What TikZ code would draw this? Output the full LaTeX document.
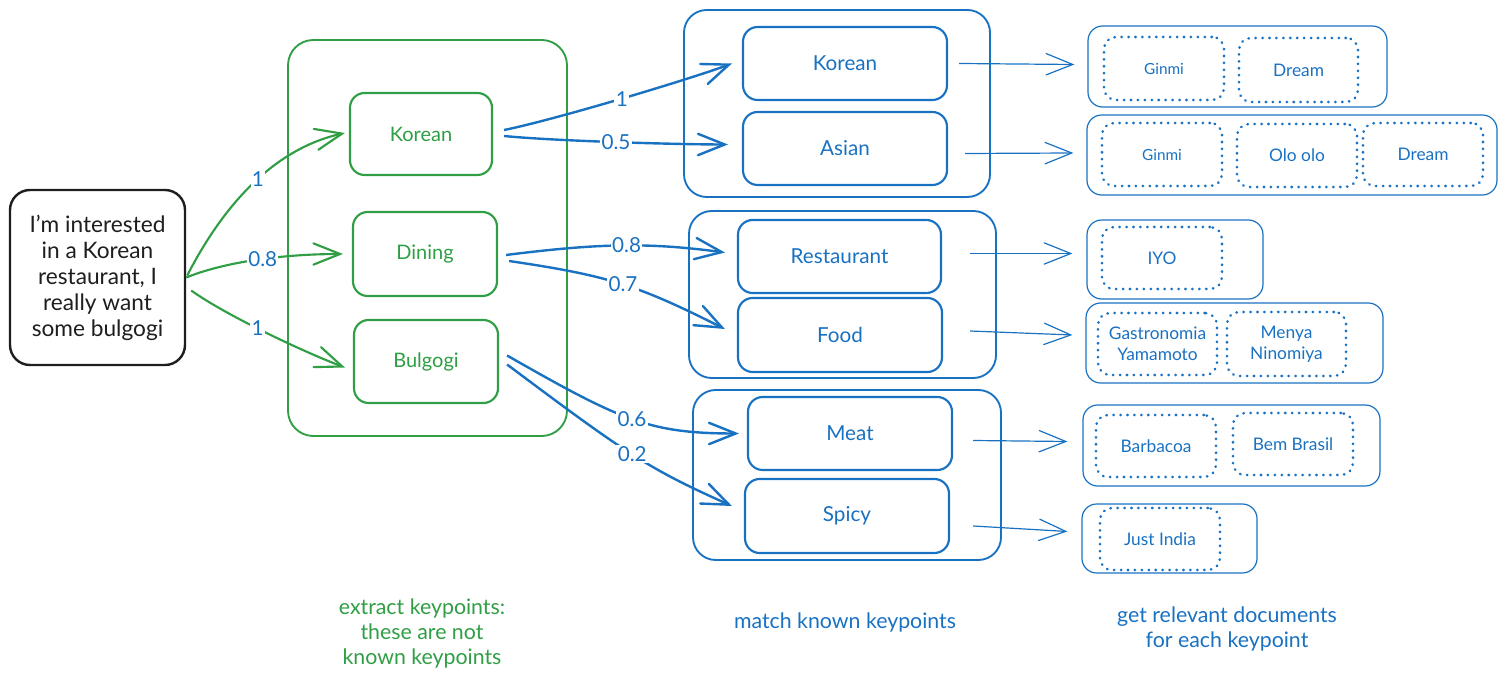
\documentclass[tikz,border=0pt]{standalone}
\usepackage{fontspec}
\setmainfont{Lato}
\usetikzlibrary{arrows.meta,calc}
\definecolor{exgreen}{HTML}{2F9E44}
\definecolor{exblue}{HTML}{1971C2}
\definecolor{exblack}{HTML}{1E1E1E}
\begin{document}
\begin{tikzpicture}[x=0.75pt,y=-0.75pt,
  sz/.style 2 args={minimum width=#1*0.75pt, minimum height=#2*0.75pt},
  basebox/.style={inner sep=0pt, align=center},
  inbox/.style={basebox, draw=exblack, text=exblack, line width=1.8pt, rounded corners=15pt,
    font=\fontsize{17}{19.5}\selectfont},
  gouter/.style={basebox, draw=exgreen, line width=1.4pt, rounded corners=19pt},
  gbox/.style={basebox, draw=exgreen, text=exgreen, line width=1.6pt, rounded corners=11pt,
    font=\fontsize{15}{17}\selectfont},
  bouter/.style={basebox, draw=exblue, line width=1.4pt, rounded corners=17pt},
  bbox/.style={basebox, draw=exblue, text=exblue, line width=1.6pt, rounded corners=11pt,
    font=\fontsize{15.5}{17}\selectfont},
  docbox/.style={basebox, draw=exblue, line width=0.9pt, rounded corners=11pt},
  dotbox/.style={basebox, draw=exblue, text=exblue, line width=1.9pt, rounded corners=9pt,
    dash pattern=on 0.4pt off 4.8pt, line cap=round, font=\fontsize{13}{16}\selectfont},
  small/.style={font=\fontsize{11.5}{14}\selectfont},
  tip/.style={-{Straight Barb[length=20pt,width=16pt,line cap=round]}},
  garr/.style={tip, draw=exgreen, line width=1.6pt},
  barr/.style={tip, draw=exblue, line width=1.8pt},
  rarr/.style={tip, draw=exblue, line width=0.9pt},
  elab/.style={fill=white, text=exblue, inner sep=1pt, font=\fontsize{15.5}{17}\selectfont},
  caption/.style={align=center, font=\fontsize{16}{18.75}\selectfont}
]
\useasboundingbox (0,0) rectangle (1507,680);

% input
\node[inbox, sz={175}{175}] (in) at (97.5,277.5) {I'm interested\\in a Korean\\restaurant, I\\really want\\some bulgogi};

% green column
\node[gouter, sz={279}{396}] (gout) at (427.5,238) {};
\node[gbox, sz={142}{82}] (gk) at (421,134) {Korean};
\node[gbox, sz={144}{84}] (gd) at (425,254) {Dining};
\node[gbox, sz={144}{83}] (gb) at (426,361.5) {Bulgogi};

% blue column
\node[bouter, sz={306}{187}] (bo1) at (837,103.5) {};
\node[bouter, sz={307}{167}] (bo2) at (842.5,294.5) {};
\node[bouter, sz={308}{170}] (bo3) at (847,475) {};
\node[bbox, sz={204}{73}] (bk) at (845,63.5) {Korean};
\node[bbox, sz={204}{73}] (ba) at (845,148.5) {Asian};
\node[bbox, sz={203}{73}] (br) at (839.5,256.5) {Restaurant};
\node[bbox, sz={204}{74}] (bf) at (840,335) {Food};
\node[bbox, sz={204}{73}] (bm) at (850,433.5) {Meat};
\node[bbox, sz={204}{74}] (bs) at (847,516) {Spicy};

% documents
\node[docbox, sz={299}{81}] (d1) at (1237.5,66.5) {};
\node[dotbox, small, sz={120}{63}] (d1a) at (1164,68.5) {Ginmi};
\node[dotbox, sz={119}{64}] (d1b) at (1298.5,70) {Dream};

\node[docbox, sz={410}{80}] (d2) at (1292,155) {};
\node[dotbox, small, sz={120}{63}] (d2a) at (1162,154.5) {Ginmi};
\node[dotbox, sz={120}{63}] (d2b) at (1297,155.5) {Olo olo};
\node[dotbox, sz={120}{63}] (d2c) at (1423,154.5) {Dream};

\node[docbox, sz={176}{79}] (d3) at (1175,259.5) {};
\node[dotbox, sz={120}{62}] (d3a) at (1162,258) {IYO};

\node[docbox, sz={297}{80}] (d4) at (1234.5,343) {};
\node[dotbox, sz={119}{62}] (d4a) at (1157.5,344) {Gastronomia\\Yamamoto};
\node[dotbox, sz={119}{64}] (d4b) at (1286.5,344) {Menya\\Ninomiya};

\node[docbox, sz={297}{81}] (d5) at (1231.5,445.5) {};
\node[dotbox, sz={120}{62}] (d5a) at (1156,446) {Barbacoa};
\node[dotbox, sz={120}{62}] (d5b) at (1293,444) {Bem Brasil};

\node[docbox, sz={175}{69}] (d6) at (1169.5,538.5) {};
\node[dotbox, sz={120}{62}] (d6a) at (1160,539) {Just India};

% input -> green
\draw[garr] ($(in.east)+(1,-2)$) .. controls +(50,-97) and +(-50,11) .. ($(gk.west)+(-4,-1)$)
  node[elab, pos=0.45] {1};
\draw[garr] (in.east) .. controls +(45,-18) and +(-50,0) .. ($(gd.west)+(-9,0)$)
  node[elab, pos=0.5] {0.8};
\draw[garr] ($(in.east)+(5,13)$) .. controls +(35,25) and +(-40,-15) .. ($(gb.west)+(-8,6)$)
  node[elab, pos=0.45] {1};

% green -> blue
\draw[barr] ($(gk.east)+(11,-4)$) .. controls +(50,-10) and +(-40,15) .. ($(bk.west)+(-10,0)$)
  node[elab, pos=0.5] {1};
\draw[barr] ($(gk.east)+(11,2)$) .. controls +(50,5) and +(-50,0) .. ($(ba.west)+(-14,-4)$)
  node[elab, pos=0.5] {0.5};
\draw[barr] ($(gd.east)+(8,1)$) .. controls +(95,-12) and +(-76,-10) .. ($(br.west)+(-12,-4)$)
  node[elab, pos=0.52] {0.8};
\draw[barr] ($(gd.east)+(11,7)$) .. controls +(102,15) and +(-86,-43) .. ($(bf.west)+(-12,-6)$)
  node[elab, pos=0.5] {0.7};
\draw[barr] ($(gb.east)+(8,-6)$) .. controls +(114,65) and +(-90,0) .. ($(bm.west)+(-8,0)$)
  node[elab, pos=0.5] {0.6};
\draw[barr] ($(gb.east)+(8,3)$) .. controls +(119,89) and +(-85,-38) .. ($(bs.west)+(-12,-10)$)
  node[elab, pos=0.5] {0.2};

% blue -> documents
\draw[rarr] ($(bk.east)+(11,0)$) -- ($(d1.west)+(-13,-2)$);
\draw[rarr] ($(ba.east)+(17,5)$) -- ($(d2.west)+(-13,-2)$);
\draw[rarr] ($(br.east)+(28,-3)$) -- ($(d3.west)+(-14,-6)$);
\draw[rarr] ($(bf.east)+(27,-4)$) -- ($(d4.west)+(-13,-8)$);
\draw[rarr] ($(bm.east)+(20,7)$) -- ($(d5.west)+(-15,-4)$);
\draw[rarr] ($(bs.east)+(23,10)$) -- ($(d6.west)+(-14,-7)$);

% captions
\node[caption, text=exgreen] (c1) at (422,633) {extract keypoints:\\these are not\\known keypoints};
\node[caption, text=exblue] (c2) at (845,622) {match known keypoints};
\node[caption, text=exblue] (c3) at (1227,629) {get relevant documents\\for each keypoint};
\end{tikzpicture}
\end{document}
